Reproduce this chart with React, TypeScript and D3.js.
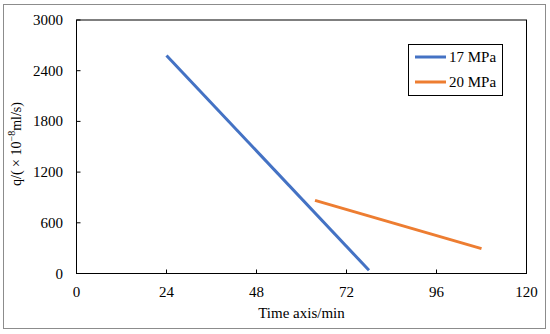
import React from "react";
import * as d3 from "d3";

const seriesNames = ["17 MPa", "20 MPa"];
const seriesColors = ["#4472C4", "#ED7D31"];
const series17X = [24, 78];
const series17Y = [2580, 38];
const series20X = [63.6, 108];
const series20Y = [866, 295];
const xTicks = [0, 24, 48, 72, 96, 120];
const yTicks = [0, 600, 1200, 1800, 2400, 3000];

export default function App() {
  const W = 550, H = 334;
  const left = 76.5, right = 526.5, top = 20, bottom = 273.5;
  const x = d3.scaleLinear().domain([0, 120]).range([left, right]);
  const y = d3.scaleLinear().domain([0, 3000]).range([bottom, top]);
  const line = d3.line<[number, number]>().x(d => x(d[0])).y(d => y(d[1]));
  const data = [
    series17X.map((v, i) => [v, series17Y[i]] as [number, number]),
    series20X.map((v, i) => [v, series20Y[i]] as [number, number]),
  ];
  const font = "'Liberation Serif', 'Times New Roman', serif";
  return (
    <svg width={W} height={H} style={{ position: "absolute", left: 0, top: 0 }} fontFamily={font}>
      <rect x={0} y={0} width={W} height={H} fill="#fff" />
      <rect x={3.5} y={4.5} width={542} height={324} fill="none" stroke="#8c8c8c" strokeWidth={1} />
      <rect x={left} y={top} width={right - left} height={bottom - top} fill="none" stroke="#000" strokeWidth={1} />
      {xTicks.map(t => (
        <g key={"x" + t}>
          <line x1={x(t)} x2={x(t)} y1={bottom} y2={bottom - 4} stroke="#000" />
          <text x={x(t)} y={297} textAnchor="middle" fontSize={15} fill="#000">{t}</text>
        </g>
      ))}
      {yTicks.map(t => (
        <g key={"y" + t}>
          <line x1={left} x2={left + 4} y1={y(t)} y2={y(t)} stroke="#000" />
          <text x={63} y={y(t) + 5} textAnchor="end" fontSize={15} fill="#000">{t}</text>
        </g>
      ))}
      {data.map((d, i) => (
        <path key={i} d={line(d) || ""} fill="none" stroke={seriesColors[i]} strokeWidth={3} />
      ))}
      <text x={(left + right) / 2} y={318} textAnchor="middle" fontSize={15} fill="#000">Time axis/min</text>
      <text transform={`translate(21,144) rotate(-90)`} textAnchor="middle" fontSize={14} fill="#000">
        q/( × 10<tspan dy={-6} fontSize={10}>−8</tspan><tspan dy={6}>ml/s)</tspan>
      </text>
      <rect x={408.5} y={44.5} width={94} height={51} fill="#fff" stroke="#000" strokeWidth={1} />
      {seriesNames.map((n, i) => (
        <g key={n}>
          <line x1={415} x2={446} y1={57 + i * 25} y2={57 + i * 25} stroke={seriesColors[i]} strokeWidth={3} />
          <text x={449} y={62 + i * 25} fontSize={15} fill="#000">{n}</text>
        </g>
      ))}
    </svg>
  );
}
